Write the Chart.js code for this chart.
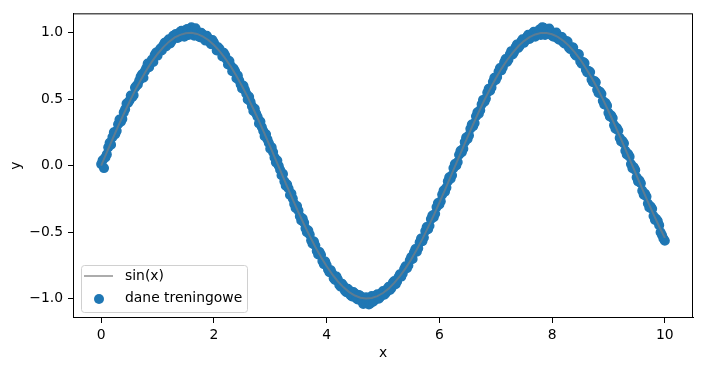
<html>
    <head>
        <style>
            body { margin: 0; background: #fff; }
        </style>
    </head>
    <body>
        <canvas id="chart" width="702" height="371"></canvas>
        <script src="https://cdn.jsdelivr.net/npm/chart.js@4.4.0/dist/chart.umd.min.js"></script>
        <script>

            // sin(x) curve at steps of 0.1
            var lineX = [0,0.1,0.2,0.3,0.4,0.5,0.6,0.7,0.8,0.9,1,1.1,1.2,1.3,1.4,1.5,1.6,1.7,1.8,1.9,2,2.1,2.2,2.3,2.4,2.5,2.6,2.7,2.8,2.9,3,3.1,3.2,3.3,3.4,3.5,3.6,3.7,3.8,3.9,4,4.1,4.2,4.3,4.4,4.5,4.6,4.7,4.8,4.9,5,5.1,5.2,5.3,5.4,5.5,5.6,5.7,5.8,5.9,6,6.1,6.2,6.3,6.4,6.5,6.6,6.7,6.8,6.9,7,7.1,7.2,7.3,7.4,7.5,7.6,7.7,7.8,7.9,8,8.1,8.2,8.3,8.4,8.5,8.6,8.7,8.8,8.9,9,9.1,9.2,9.3,9.4,9.5,9.6,9.7,9.8,9.9,10];
            var lineY = [0,0.100,0.199,0.296,0.389,0.479,0.565,0.644,0.717,0.783,0.841,0.891,0.932,0.964,0.985,0.997,1.000,0.992,0.974,0.946,0.909,0.863,0.808,0.746,0.675,0.598,0.516,0.427,0.335,0.239,0.141,0.042,-0.058,-0.158,-0.256,-0.351,-0.443,-0.530,-0.612,-0.688,-0.757,-0.818,-0.872,-0.916,-0.952,-0.978,-0.994,-1.000,-0.996,-0.982,-0.959,-0.926,-0.883,-0.832,-0.773,-0.706,-0.631,-0.551,-0.465,-0.374,-0.279,-0.182,-0.083,0.017,0.117,0.215,0.312,0.405,0.494,0.578,0.657,0.729,0.794,0.850,0.899,0.938,0.968,0.988,0.999,0.999,0.989,0.970,0.941,0.902,0.855,0.799,0.734,0.663,0.585,0.501,0.412,0.319,0.223,0.125,0.025,-0.075,-0.174,-0.272,-0.367,-0.458,-0.544];

            // training points (dane treningowe), first pass at x = 0, 0.05, ... 10
            var pointX = [0,0.05,0.1,0.15,0.2,0.25,0.3,0.35,0.4,0.45,0.5,0.55,0.6,0.65,0.7,0.75,0.8,0.85,0.9,0.95,1,1.05,1.1,1.15,1.2,1.25,1.3,1.35,1.4,1.45,1.5,1.55,1.6,1.65,1.7,1.75,1.8,1.85,1.9,1.95,2,2.05,2.1,2.15,2.2,2.25,2.3,2.35,2.4,2.45,2.5,2.55,2.6,2.65,2.7,2.75,2.8,2.85,2.9,2.95,3,3.05,3.1,3.15,3.2,3.25,3.3,3.35,3.4,3.45,3.5,3.55,3.6,3.65,3.7,3.75,3.8,3.85,3.9,3.95,4,4.05,4.1,4.15,4.2,4.25,4.3,4.35,4.4,4.45,4.5,4.55,4.6,4.65,4.7,4.75,4.8,4.85,4.9,4.95,5,5.05,5.1,5.15,5.2,5.25,5.3,5.35,5.4,5.45,5.5,5.55,5.6,5.65,5.7,5.75,5.8,5.85,5.9,5.95,6,6.05,6.1,6.15,6.2,6.25,6.3,6.35,6.4,6.45,6.5,6.55,6.6,6.65,6.7,6.75,6.8,6.85,6.9,6.95,7,7.05,7.1,7.15,7.2,7.25,7.3,7.35,7.4,7.45,7.5,7.55,7.6,7.65,7.7,7.75,7.8,7.85,7.9,7.95,8,8.05,8.1,8.15,8.2,8.25,8.3,8.35,8.4,8.45,8.5,8.55,8.6,8.65,8.7,8.75,8.8,8.85,8.9,8.95,9,9.05,9.1,9.15,9.2,9.25,9.3,9.35,9.4,9.45,9.5,9.55,9.6,9.65,9.7,9.75,9.8,9.85,9.9,9.95,10];
            var pointY = [0.012,-0.018,0.085,0.172,0.215,0.238,0.312,0.331,0.401,0.468,0.489,0.515,0.588,0.612,0.671,0.662,0.735,0.742,0.798,0.835,0.829,0.881,0.905,0.897,0.951,0.938,0.972,0.962,1.008,0.981,1.021,0.985,1.042,0.978,1.012,0.968,0.989,0.942,0.958,0.915,0.927,0.868,0.879,0.822,0.831,0.762,0.752,0.732,0.658,0.641,0.582,0.571,0.498,0.481,0.412,0.392,0.318,0.291,0.222,0.198,0.128,0.102,0.025,-0.001,-0.072,-0.118,-0.142,-0.221,-0.248,-0.318,-0.338,-0.412,-0.428,-0.501,-0.518,-0.588,-0.601,-0.668,-0.672,-0.741,-0.748,-0.802,-0.812,-0.861,-0.858,-0.912,-0.905,-0.952,-0.938,-0.985,-0.962,-1.008,-0.982,-1.041,-0.991,-1.045,-0.982,-1.012,-0.968,-0.988,-0.945,-0.958,-0.912,-0.922,-0.868,-0.872,-0.818,-0.812,-0.758,-0.752,-0.688,-0.652,-0.648,-0.578,-0.568,-0.492,-0.478,-0.402,-0.388,-0.312,-0.292,-0.218,-0.195,-0.118,-0.098,-0.018,0.002,0.082,0.102,0.178,0.201,0.278,0.298,0.372,0.391,0.462,0.482,0.551,0.565,0.631,0.645,0.708,0.718,0.778,0.781,0.838,0.838,0.891,0.886,0.934,0.925,0.968,0.955,0.995,0.972,1.012,0.985,1.038,1.012,1.032,0.978,0.995,0.958,0.971,0.928,0.938,0.888,0.892,0.842,0.841,0.785,0.781,0.722,0.712,0.648,0.638,0.572,0.556,0.488,0.471,0.398,0.378,0.305,0.284,0.209,0.186,0.112,0.087,0.012,-0.012,-0.088,-0.112,-0.188,-0.212,-0.285,-0.308,-0.379,-0.402,-0.448,-0.522,-0.565];

            // more training points in between, x = 0.025, 0.075, ... 9.975
            var pointX2 = [0.025,0.075,0.125,0.175,0.225,0.275,0.325,0.375,0.425,0.475,0.525,0.575,0.625,0.675,0.725,0.775,0.825,0.875,0.925,0.975,1.025,1.075,1.125,1.175,1.225,1.275,1.325,1.375,1.425,1.475,1.525,1.575,1.625,1.675,1.725,1.775,1.825,1.875,1.925,1.975,2.025,2.075,2.125,2.175,2.225,2.275,2.325,2.375,2.425,2.475,2.525,2.575,2.625,2.675,2.725,2.775,2.825,2.875,2.925,2.975,3.025,3.075,3.125,3.175,3.225,3.275,3.325,3.375,3.425,3.475,3.525,3.575,3.625,3.675,3.725,3.775,3.825,3.875,3.925,3.975,4.025,4.075,4.125,4.175,4.225,4.275,4.325,4.375,4.425,4.475,4.525,4.575,4.625,4.675,4.725,4.775,4.825,4.875,4.925,4.975,5.025,5.075,5.125,5.175,5.225,5.275,5.325,5.375,5.425,5.475,5.525,5.575,5.625,5.675,5.725,5.775,5.825,5.875,5.925,5.975,6.025,6.075,6.125,6.175,6.225,6.275,6.325,6.375,6.425,6.475,6.525,6.575,6.625,6.675,6.725,6.775,6.825,6.875,6.925,6.975,7.025,7.075,7.125,7.175,7.225,7.275,7.325,7.375,7.425,7.475,7.525,7.575,7.625,7.675,7.725,7.775,7.825,7.875,7.925,7.975,8.025,8.075,8.125,8.175,8.225,8.275,8.325,8.375,8.425,8.475,8.525,8.575,8.625,8.675,8.725,8.775,8.825,8.875,8.925,8.975,9.025,9.075,9.125,9.175,9.225,9.275,9.325,9.375,9.425,9.475,9.525,9.575,9.625,9.675,9.725,9.775,9.825,9.875,9.925,9.975];
            var pointY2 = [0.041,0.062,0.138,0.158,0.251,0.262,0.348,0.352,0.425,0.472,0.528,0.531,0.602,0.641,0.688,0.712,0.768,0.772,0.781,0.852,0.862,0.868,0.925,0.938,0.921,0.978,0.992,0.965,1.015,0.972,1.028,0.991,1.018,1.035,0.975,1.001,0.955,0.978,0.931,0.945,0.905,0.892,0.858,0.849,0.802,0.788,0.711,0.712,0.678,0.612,0.601,0.542,0.518,0.448,0.428,0.368,0.332,0.262,0.236,0.171,0.139,0.062,0.038,-0.031,-0.062,-0.151,-0.172,-0.211,-0.288,-0.305,-0.381,-0.398,-0.472,-0.489,-0.562,-0.571,-0.642,-0.651,-0.718,-0.722,-0.781,-0.788,-0.848,-0.835,-0.898,-0.889,-0.941,-0.928,-0.975,-0.952,-0.998,-0.975,-1.021,-1.032,-1.018,-1.038,-1.025,-0.978,-1.002,-0.958,-0.972,-0.928,-0.935,-0.881,-0.892,-0.838,-0.835,-0.778,-0.772,-0.712,-0.702,-0.628,-0.621,-0.548,-0.541,-0.462,-0.452,-0.375,-0.362,-0.281,-0.268,-0.188,-0.165,-0.088,-0.072,0.012,0.028,0.112,0.128,0.211,0.228,0.309,0.321,0.402,0.418,0.495,0.505,0.578,0.589,0.661,0.668,0.735,0.741,0.802,0.798,0.862,0.855,0.912,0.902,0.952,0.941,0.985,0.968,1.008,0.988,1.025,1.041,0.985,1.028,1.012,0.972,1.002,0.948,0.968,0.918,0.935,0.878,0.889,0.828,0.838,0.768,0.772,0.702,0.705,0.628,0.628,0.548,0.541,0.462,0.452,0.371,0.358,0.278,0.265,0.182,0.168,0.085,0.068,-0.018,-0.032,-0.118,-0.132,-0.218,-0.232,-0.315,-0.325,-0.408,-0.418,-0.501,-0.548];

            // tick labels
            var xTicks = [0, 2, 4, 6, 8, 10];
            var yTicks = [-1.0, -0.5, 0.0, 0.5, 1.0];

            var FONT = 'DejaVu Sans';
            var BLUE = '#1f77b4';
            var LINE_GRAY = 'rgba(128,128,128,0.65)';

            function toXY(xs, ys) {
                return xs.map((x, i) => ({x: x, y: ys[i]}));
            }

            function minus(v, digits) {
                var s = v.toFixed(digits);
                return s.replace('-', '\u2212');
            }

            // top and right spines
            var frame = {
                id: 'frame',
                afterDatasetsDraw(chart) {
                    var a = chart.chartArea, c = chart.ctx;
                    c.save();
                    c.strokeStyle = '#000';
                    c.lineWidth = 1;
                    c.strokeRect(a.left + 0.5, a.top + 0.5, a.right - a.left - 1, a.bottom - a.top - 1);
                    c.restore();
                }
            };

            // legend box in the lower left corner, like matplotlib's
            var cornerLegend = {
                id: 'cornerLegend',
                afterDraw(chart) {
                    var c = chart.ctx;
                    var x = 81, y = 265, w = 166, h = 47;
                    c.save();
                    c.beginPath();
                    c.roundRect(x + 0.5, y + 0.5, w, h, 3);
                    c.fillStyle = 'rgba(255,255,255,0.8)';
                    c.fill();
                    c.strokeStyle = '#d0d0d0';
                    c.lineWidth = 1;
                    c.stroke();

                    c.strokeStyle = LINE_GRAY;
                    c.lineWidth = 2;
                    c.beginPath();
                    c.moveTo(84, 276);
                    c.lineTo(113, 276);
                    c.stroke();

                    c.fillStyle = BLUE;
                    c.beginPath();
                    c.arc(99, 299, 5, 0, Math.PI * 2);
                    c.fill();

                    c.fillStyle = '#000';
                    c.font = '13.9px "' + FONT + '"';
                    c.textBaseline = 'middle';
                    c.textAlign = 'left';
                    c.fillText(chart.data.datasets[1].label, 125, 276);
                    c.fillText(chart.data.datasets[0].label, 125, 298);
                    c.restore();
                }
            };

            var ctx = document.getElementById('chart').getContext('2d');
            var chart = new Chart(ctx, {
                type: 'scatter',
                data: {
                    datasets: [{
                        label: 'dane treningowe',
                        data: toXY(pointX, pointY).concat(toXY(pointX2, pointY2)),
                        backgroundColor: BLUE,
                        borderColor: BLUE,
                        borderWidth: 1.5,
                        pointRadius: 4.3,
                        order: 2
                    }, {
                        label: 'sin(x)',
                        data: toXY(lineX, lineY),
                        showLine: true,
                        borderColor: LINE_GRAY,
                        borderWidth: 2,
                        pointRadius: 0,
                        fill: false,
                        order: 1
                    }]
                },
                options: {
                    responsive: false,
                    animation: false,
                    devicePixelRatio: 1,
                    layout: { padding: { top: 11, right: 9, left: 0, bottom: 0 } },
                    plugins: {
                        legend: { display: false },
                        tooltip: { enabled: false }
                    },
                    scales: {
                        x: {
                            type: 'linear',
                            min: -0.5,
                            max: 10.5,
                            afterFit: (s) => { s.height = 53; },
                            afterBuildTicks: (s) => { s.ticks = xTicks.map((v) => ({value: v})); },
                            border: { color: '#000', width: 1 },
                            grid: { drawOnChartArea: false, drawTicks: true, tickLength: 5, color: '#000' },
                            ticks: {
                                color: '#000',
                                padding: 4,
                                maxRotation: 0,
                                font: { family: FONT, size: 13.9 },
                                callback: (v) => minus(v, 0)
                            },
                            title: {
                                display: true,
                                text: 'x',
                                color: '#000',
                                font: { family: FONT, size: 13.9 },
                                padding: { top: 0, bottom: 9 }
                            }
                        },
                        y: {
                            type: 'linear',
                            min: -1.147,
                            max: 1.147,
                            afterFit: (s) => { s.width = 73; },
                            afterBuildTicks: (s) => { s.ticks = yTicks.map((v) => ({value: v})); },
                            border: { color: '#000', width: 1 },
                            grid: { drawOnChartArea: false, drawTicks: true, tickLength: 5, color: '#000' },
                            ticks: {
                                color: '#000',
                                padding: 5,
                                font: { family: FONT, size: 13.9 },
                                callback: (v) => minus(v, 1)
                            },
                            title: {
                                display: true,
                                text: 'y',
                                color: '#000',
                                font: { family: FONT, size: 13.9 },
                                padding: { top: 8, bottom: 0 }
                            }
                        }
                    }
                },
                plugins: [frame, cornerLegend]
            });
        </script>
    </body>
</html>
